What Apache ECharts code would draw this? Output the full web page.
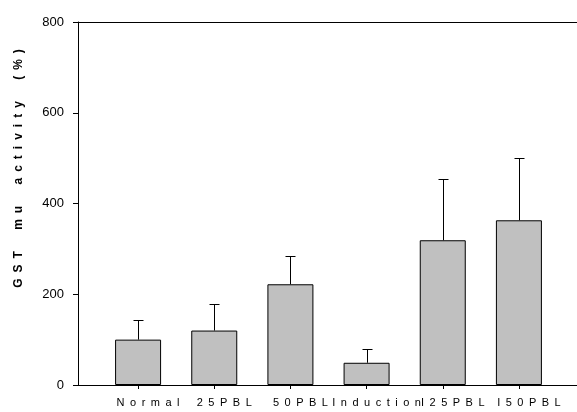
<!DOCTYPE html>
<html>
<head>
<meta charset="utf-8">
<script src="https://cdn.jsdelivr.net/npm/echarts@6/dist/echarts.min.js"></script>
<style>
  html, body { margin: 0; padding: 0; background: #fff; }
  #chart { width: 577px; height: 412px; }
</style>
</head>
<body>
<div id="chart"></div>
<script>
// Treatment groups and measured GST mu activity (mean and SD, % of normal)
const groups = ['Normal', '25PBL', '50PBL', 'Induction', 'I25PBL', 'I50PBL'];
const meanActivity = [100, 120, 222, 49, 319, 363];
const sdActivity = [43, 59, 62, 30, 136, 137];
const yTicks = [0, 200, 400, 600, 800];
const yTitle = 'GST mu activity (%)';

// Letter-spaced text helper (en space between letters, wider between words)
const EN = '\u2002';
function spaced(s) {
  return s.split(' ').map(w => w.split('').join(EN)).join(EN + ' ' + EN + EN);
}

const errorData = groups.map((g, i) => [i, meanActivity[i], meanActivity[i] + sdActivity[i]]);

const chart = echarts.init(document.getElementById('chart'), null, { renderer: 'canvas' });
const font = 'Liberation Sans, Arial, Helvetica, sans-serif';

chart.setOption({
  animation: false,
  backgroundColor: '#ffffff',
  textStyle: { fontFamily: font, color: '#000' },
  grid: [
    // frame: left axis, bottom and top lines
    { left: 78, right: 0, top: 22, bottom: 27 },
    // bars
    { left: 100, right: 20, top: 22, bottom: 27 }
  ],
  xAxis: [
    {
      type: 'value', gridIndex: 0, min: 0, max: 1,
      axisLine: { show: true, onZero: false, lineStyle: { color: '#000', width: 1 } },
      axisTick: { show: false }, axisLabel: { show: false }, splitLine: { show: false }
    },
    {
      type: 'value', gridIndex: 0, position: 'top', min: 0, max: 1,
      axisLine: { show: true, onZero: false, lineStyle: { color: '#000', width: 1 } },
      axisTick: { show: false }, axisLabel: { show: false }, splitLine: { show: false }
    },
    {
      type: 'category', gridIndex: 1, data: groups,
      axisLine: { show: false },
      axisTick: { show: true, alignWithLabel: true, length: 4, lineStyle: { color: '#000' } },
      axisLabel: {
        margin: 12, fontSize: 11, color: '#000', fontFamily: font,
        interval: 0, padding: [0, 0, 0, 20],
        formatter: v => v.split('').join(EN)
      },
      splitLine: { show: false }
    }
  ],
  yAxis: [
    {
      type: 'value', gridIndex: 0, min: yTicks[0], max: yTicks[yTicks.length - 1], interval: 200,
      axisLine: { show: true, lineStyle: { color: '#000', width: 1 } },
      axisTick: { show: true, inside: false, length: 5, lineStyle: { color: '#000' } },
      axisLabel: { margin: 14, fontSize: 13, color: '#000', fontFamily: font },
      splitLine: { show: false },
      name: spaced(yTitle),
      nameLocation: 'middle',
      nameRotate: 90,
      nameGap: 53,
      nameTextStyle: {
        fontSize: 12, fontWeight: 'bold', color: '#000', fontFamily: font,
        padding: [0, 0, 0, 70]
      }
    },
    {
      type: 'value', gridIndex: 1, min: yTicks[0], max: yTicks[yTicks.length - 1],
      show: false
    }
  ],
  series: [
    {
      type: 'bar',
      xAxisIndex: 2, yAxisIndex: 1,
      data: meanActivity,
      barWidth: 46,
      itemStyle: { color: '#c0c0c0', borderColor: '#000', borderWidth: 1 },
      z: 2
    },
    {
      type: 'custom',
      xAxisIndex: 2, yAxisIndex: 1,
      data: errorData,
      z: 3,
      renderItem: function (params, api) {
        const idx = api.value(0);
        const base = api.coord([idx, api.value(1)]);
        const top = api.coord([idx, api.value(2)]);
        const x = Math.round(base[0]) + 0.5;
        const half = 5;
        const style = { stroke: '#000', lineWidth: 1 };
        return {
          type: 'group',
          children: [
            { type: 'line', shape: { x1: x, y1: base[1], x2: x, y2: Math.round(top[1]) + 0.5 }, style: style },
            { type: 'line', shape: { x1: x - half, y1: Math.round(top[1]) + 0.5, x2: x + half, y2: Math.round(top[1]) + 0.5 }, style: style }
          ]
        };
      }
    }
  ]
});
</script>
</body>
</html>
